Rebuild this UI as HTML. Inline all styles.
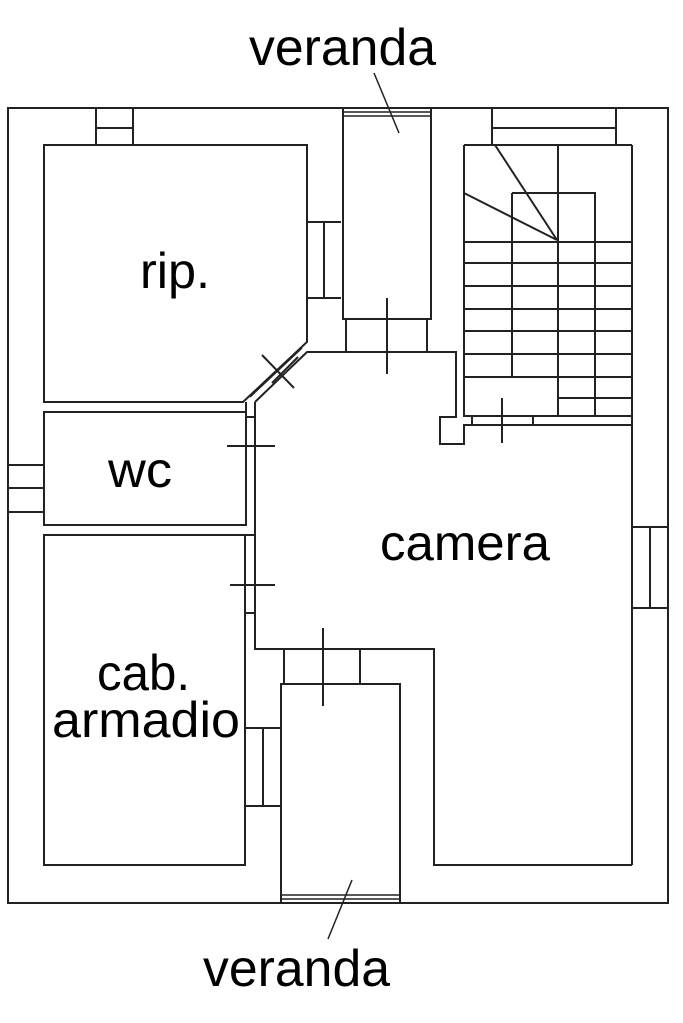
<!DOCTYPE html>
<html><head><meta charset="utf-8"><style>
html,body{margin:0;padding:0;background:#fff;}
svg{display:block}
text{font-family:"Liberation Sans",sans-serif;fill:#000;}
</style></head><body>
<svg width="683" height="1023" viewBox="0 0 683 1023" xmlns="http://www.w3.org/2000/svg">
<g fill="none" stroke="#222" stroke-width="2">
<!-- outer -->
<rect x="8" y="108" width="660" height="795"/>
<!-- top left window -->
<path d="M96 108V145M133 108V145M96 128H133"/>
<!-- top right window -->
<path d="M492 108V145M616 108V145M492 128H616"/>
<!-- rip -->
<path d="M44 145H307V342L243 402H44Z"/>
<!-- rip right window -->
<path d="M307 222H341M307 298H341M324 222V298"/>
<!-- top veranda -->
<path d="M343 108V319H431V108"/>
<path d="M343 112H431M343 116H431" stroke-width="1.5"/>
<path d="M346 319V352M427 319V352"/>
<path d="M387 298V374"/>
<!-- corridor -->
<path d="M246 412V402M255 402L307 352H456V417H440V444H464V425H632"/>
<path d="M255 402V649H434V865H632"/>
<path d="M632 145V865"/>
<!-- diagonal door -->
<path d="M250 397L302 348" stroke-width="1.5"/>
<path d="M262 355L294 388M272 383L298 357"/>
<!-- stairs -->
<path d="M464 145H632M464 145V416H632M558 145V416M512 193H595V416M512 193V377"/>
<path d="M464 242H632M464 263H632M464 286H632M464 309H632M464 331H632M464 354H632M464 377H632M558 398H632"/>
<path d="M472 416V425M533 416V425"/>
<path d="M495 145L557 240M464 193L557 240"/>
<path d="M502 398V443"/>
<!-- wc -->
<rect x="44" y="412" width="202" height="113"/>
<path d="M8 465H44M8 488H44M8 512H44"/>
<path d="M246 417H255M227 446H275"/>
<!-- cab armadio -->
<rect x="44" y="535" width="201" height="330"/>
<path d="M245 535H255M230 585H275M245 613H255"/>
<!-- bottom veranda -->
<path d="M281 903V684H400V903"/>
<path d="M281 895H400M281 899H400" stroke-width="1.5"/>
<path d="M284 649V684M360 649V684M323 628V706"/>
<path d="M245 728H281M245 806H281M263 728V806"/>
<!-- right window -->
<path d="M632 527H668M632 608H668M650 527V608"/>
<!-- leaders -->
<path d="M374 73L399 133M352 880L328 939" stroke-width="1.5"/>
</g>
<text x="249" y="65" font-size="52" textLength="187" lengthAdjust="spacingAndGlyphs">veranda</text>
<text x="140" y="288" font-size="50" textLength="70" lengthAdjust="spacingAndGlyphs">rip.</text>
<text x="108" y="487" font-size="50" textLength="64" lengthAdjust="spacingAndGlyphs">wc</text>
<text x="380" y="560" font-size="50" textLength="170" lengthAdjust="spacingAndGlyphs">camera</text>
<text x="97" y="690" font-size="50" textLength="93" lengthAdjust="spacingAndGlyphs">cab.</text>
<text x="52" y="737" font-size="50" textLength="188" lengthAdjust="spacingAndGlyphs">armadio</text>
<text x="203" y="986" font-size="52" textLength="187" lengthAdjust="spacingAndGlyphs">veranda</text>
</svg>
</body></html>
